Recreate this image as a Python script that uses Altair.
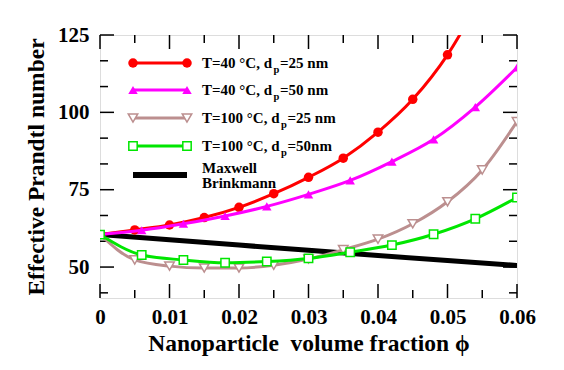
import altair as alt
import pandas as pd

# ---------------- data ----------------
red_phi = [0.0, 0.005, 0.010, 0.015, 0.020, 0.025, 0.030, 0.035, 0.040, 0.045, 0.050, 0.055]
red_pr = [60.5, 62.0, 63.6, 66.0, 69.3, 73.7, 79.0, 85.2, 93.6, 104.2, 118.6, 138.0]

mag_phi = [0.0, 0.006, 0.012, 0.018, 0.024, 0.030, 0.036, 0.042, 0.048, 0.054, 0.060]
mag_pr = [60.5, 61.9, 64.0, 66.5, 69.6, 73.5, 78.0, 84.1, 91.3, 101.7, 114.5]

brown_phi = [0.0, 0.005, 0.010, 0.015, 0.020, 0.025, 0.030, 0.035, 0.040, 0.045, 0.050, 0.055, 0.060]
brown_pr = [60.5, 52.3, 50.3, 49.7, 49.7, 50.6, 52.6, 55.6, 59.0, 64.0, 71.1, 81.4, 97.0]

green_phi = [0.0, 0.006, 0.012, 0.018, 0.024, 0.030, 0.036, 0.042, 0.048, 0.054, 0.060]
green_pr = [60.5, 53.9, 52.3, 51.4, 51.8, 52.8, 54.8, 57.1, 60.6, 65.6, 72.5]

mb_phi = [0.0, 0.01, 0.02, 0.03, 0.04, 0.05, 0.06]
mb_pr = [60.5, 58.8, 57.1, 55.4, 53.7, 52.1, 50.5]

x_major = [0.0, 0.01, 0.02, 0.03, 0.04, 0.05, 0.06]
x_minor = [0.005, 0.015, 0.025, 0.035, 0.045, 0.055]
y_major = [50, 75, 100, 125]
y_minor = [41.667, 58.333, 66.667, 83.333, 91.667, 108.333, 116.667]

legend_labels = [
    ("T=40 \u00b0C, d", "p", "=25 nm"),
    ("T=40 \u00b0C, d", "p", "=50 nm"),
    ("T=100 \u00b0C, d", "p", "=25 nm"),
    ("T=100 \u00b0C, d", "p", "=50nm"),
]
mb_label = ["Maxwell", "Brinkmann"]

# ---------------- styling ----------------
W, H = 417, 263
FONT = "'Liberation Serif', 'Times New Roman', Times, 'DejaVu Serif', serif"
RED, MAG, BROWN, GREEN = "#ff0000", "#ff00ff", "#bc8f8f", "#00e600"

xs = alt.Scale(domain=[0, 0.06], nice=False, zero=False)
ys = alt.Scale(domain=[40, 125], nice=False, zero=False)

xaxis = alt.Axis(
    title="Nanoparticle \u00a0volume fraction \u03d5", values=x_major,
    labelExpr="datum.value == 0 ? '0' : format(datum.value, '.2f')",
    ticks=False, domain=False, grid=False, labelFlush=False,
    labelFont=FONT, labelFontWeight="bold", labelFontSize=21, labelColor="black",
    labelPadding=8, titleFont=FONT, titleFontWeight="bold", titleFontSize=23.5,
    titleColor="black", titlePadding=4,
)
yaxis = alt.Axis(
    title="Effective Prandtl number", values=y_major,
    ticks=False, domain=False, grid=False, labelFlush=False,
    labelFont=FONT, labelFontWeight="bold", labelFontSize=21, labelColor="black",
    labelPadding=11, titleFont=FONT, titleFontWeight="bold", titleFontSize=23.5,
    titleColor="black", titlePadding=9,
)


def X():
    return alt.X("phi:Q", scale=xs, axis=xaxis)


def Y():
    return alt.Y("pr:Q", scale=ys, axis=yaxis)


def frame(phi, pr):
    return pd.DataFrame({"phi": phi, "pr": pr})


layers = []

# tick marks (inside, on all four sides)
for vals, ln in [(x_major, 14), (x_minor, 8)]:
    d = pd.DataFrame({"phi": vals})
    layers.append(alt.Chart(d).mark_rule(color="black", strokeWidth=1.5).encode(
        x=X(), y=alt.value(H), y2=alt.value(H - ln)))
    layers.append(alt.Chart(d).mark_rule(color="black", strokeWidth=1.5).encode(
        x=X(), y=alt.value(0), y2=alt.value(ln)))
for vals, ln in [(y_major, 14), (y_minor, 8)]:
    d = pd.DataFrame({"pr": vals})
    layers.append(alt.Chart(d).mark_rule(color="black", strokeWidth=1.5).encode(
        y=Y(), x=alt.value(0), x2=alt.value(ln)))
    layers.append(alt.Chart(d).mark_rule(color="black", strokeWidth=1.5).encode(
        y=Y(), x=alt.value(W), x2=alt.value(W - ln)))

# Maxwell-Brinkmann line
layers.append(alt.Chart(frame(mb_phi, mb_pr)).mark_line(
    color="black", strokeWidth=5, clip=True).encode(x=X(), y=Y()))

series = [
    (red_phi, red_pr, RED, "circle", True, 90, False),
    (mag_phi, mag_pr, MAG, "triangle-up", True, 90, False),
    (brown_phi, brown_pr, BROWN, "triangle-down", False, 90, False),
    (green_phi, green_pr, GREEN, "square", False, 70, True),
]
for phi, pr, col, shape, filled, size, mark0 in series:
    df = frame(phi, pr)
    layers.append(alt.Chart(df).mark_line(
        color=col, strokeWidth=3, interpolate="monotone", clip=True).encode(x=X(), y=Y()))
    pts = df if mark0 else df[df["phi"] > 0]
    layers.append(alt.Chart(pts).mark_point(
        shape=shape, size=size, filled=filled, color=col,
        fill=col if filled else "white", fillOpacity=1, opacity=1,
        strokeWidth=1.5, clip=True).encode(x=X(), y=Y()))

# manual legend (pixel positions inside the plot area)
one = pd.DataFrame({"k": [0]})
LX0, LX1, TX = 33, 87, 102
LFS = 15
rows_y = [28, 55, 83, 111]
sub_off = [70, 70, 77.5, 77.5]
for (t1, t2, t3), ry, off, (_, _, col, shape, filled, size, _) in zip(
        legend_labels, rows_y, sub_off, series):
    layers.append(alt.Chart(one).mark_rule(color=col, strokeWidth=3).encode(
        x=alt.value(LX0), x2=alt.value(LX1), y=alt.value(ry)))
    for px in (LX0, LX1):
        layers.append(alt.Chart(one).mark_point(
            shape=shape, size=size, filled=filled, color=col,
            fill=col if filled else "white", fillOpacity=1, opacity=1,
            strokeWidth=1.5).encode(x=alt.value(px), y=alt.value(ry)))
    tstyle = dict(font=FONT, fontWeight="bold", color="black", align="left", baseline="middle")
    layers.append(alt.Chart(one).mark_text(fontSize=LFS, text=t1, **tstyle).encode(
        x=alt.value(TX), y=alt.value(ry)))
    layers.append(alt.Chart(one).mark_text(fontSize=10.5, text=t2, **tstyle).encode(
        x=alt.value(TX + off + 1.5), y=alt.value(ry + 7)))
    layers.append(alt.Chart(one).mark_text(fontSize=LFS, text=t3, **tstyle).encode(
        x=alt.value(TX + off + 8), y=alt.value(ry)))

# Maxwell Brinkmann legend entry
layers.append(alt.Chart(one).mark_rule(color="black", strokeWidth=6).encode(
    x=alt.value(LX0), x2=alt.value(LX1), y=alt.value(140)))
for i, t in enumerate(mb_label):
    layers.append(alt.Chart(one).mark_text(
        fontSize=LFS, text=t, font=FONT, fontWeight="bold", color="black",
        align="left", baseline="middle").encode(x=alt.value(TX), y=alt.value(133 + 15 * i)))

chart = alt.layer(*layers).properties(
    width=W, height=H,
    padding={"left": 92, "top": 27, "right": 35, "bottom": 60},
    autosize=alt.AutoSizeParams(type="none"),
).configure_view(stroke="black", strokeWidth=2).configure(background="white")

chart.save("out.html", embed_options={"renderer": "svg", "actions": False})
